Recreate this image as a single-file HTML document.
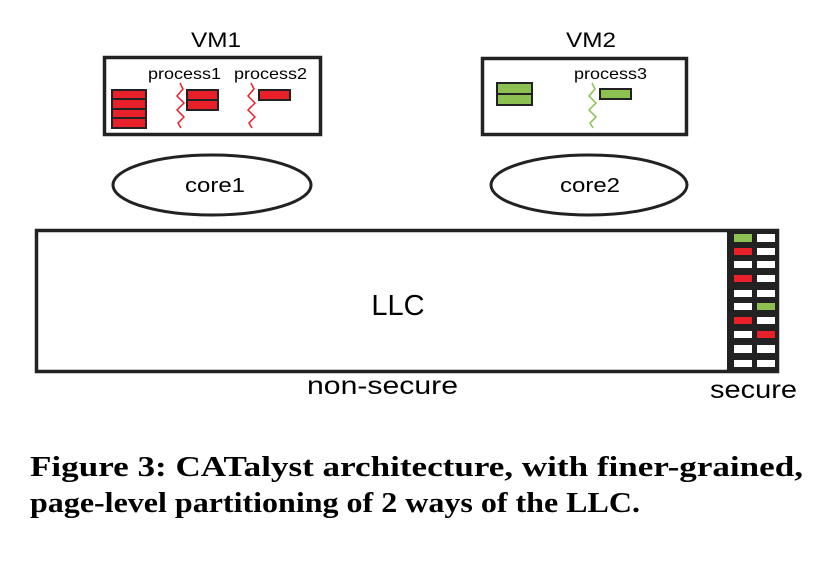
<!DOCTYPE html>
<html><head><style>
body{margin:0;width:830px;height:562px;background:#fff;overflow:hidden;position:relative}
</style></head><body>
<svg width="830" height="562" style="position:absolute;left:0;top:0" font-family="Liberation Sans, sans-serif">
<rect x="104.5" y="57.5" width="216" height="77" fill="#fff" stroke="#222" stroke-width="3.5"/>
<rect x="482.5" y="58.5" width="204" height="76" fill="#fff" stroke="#222" stroke-width="3.5"/>
<text x="191" y="47" font-size="21" textLength="50" lengthAdjust="spacingAndGlyphs">VM1</text>
<text x="566" y="47" font-size="21" textLength="50" lengthAdjust="spacingAndGlyphs">VM2</text>
<text x="148" y="79" font-size="16" textLength="73" lengthAdjust="spacingAndGlyphs">process1</text>
<text x="234" y="79" font-size="16" textLength="73" lengthAdjust="spacingAndGlyphs">process2</text>
<text x="574" y="79" font-size="16" textLength="73" lengthAdjust="spacingAndGlyphs">process3</text>
<g fill="#e8202a" stroke="#222" stroke-width="2">
<rect x="112" y="90" width="34" height="9"/><rect x="112" y="99" width="34" height="10"/><rect x="112" y="109" width="34" height="9"/><rect x="112" y="118" width="34" height="10"/>
<rect x="187" y="90" width="31" height="10"/><rect x="187" y="100" width="31" height="10"/>
<rect x="259" y="90" width="31" height="10"/>
</g>
<g fill="#8cc152" stroke="#222" stroke-width="2">
<rect x="497" y="83" width="35" height="11"/><rect x="497" y="94" width="35" height="11"/>
<rect x="600" y="89" width="31" height="10"/>
</g>
<g fill="none" stroke-width="1.5">
<polyline stroke="#e8202a" points="180,83 183,89 177,96 184,103 177,110 184,117 178,123 181,128"/>
<polyline stroke="#e8202a" points="251,83 254,89 248,96 255,103 248,110 255,117 249,123 252,128"/>
<polyline stroke="#8cc152" points="592,83 595,89 589,96 596,103 589,110 596,117 590,123 593,128"/>
</g>
<ellipse cx="212" cy="185" rx="99" ry="30" fill="#fff" stroke="#222" stroke-width="3"/>
<ellipse cx="589" cy="185" rx="98" ry="30" fill="#fff" stroke="#222" stroke-width="3"/>
<text x="185" y="192" font-size="20" textLength="60" lengthAdjust="spacingAndGlyphs">core1</text>
<text x="560" y="192" font-size="20" textLength="60" lengthAdjust="spacingAndGlyphs">core2</text>
<rect x="36.5" y="230.5" width="741" height="141" fill="#fff" stroke="#222" stroke-width="3.5"/>
<rect x="727" y="230" width="51" height="142" fill="#222"/>
<text x="398" y="315" font-size="29" text-anchor="middle">LLC</text>
<g fill="#fff">
<rect x="734" y="234" width="18" height="8" fill="#8cc152"/><rect x="757" y="234" width="18" height="8"/>
<rect x="734" y="248" width="18" height="7" fill="#e8202a"/><rect x="757" y="248" width="18" height="7"/>
<rect x="734" y="261" width="18" height="7"/><rect x="757" y="261" width="18" height="7"/>
<rect x="734" y="275" width="18" height="7" fill="#e8202a"/><rect x="757" y="275" width="18" height="7"/>
<rect x="734" y="290" width="18" height="7"/><rect x="757" y="290" width="18" height="7"/>
<rect x="734" y="303" width="18" height="7"/><rect x="757" y="303" width="18" height="7" fill="#8cc152"/>
<rect x="734" y="317" width="18" height="7" fill="#e8202a"/><rect x="757" y="317" width="18" height="7"/>
<rect x="734" y="331" width="18" height="7"/><rect x="757" y="331" width="18" height="7" fill="#e8202a"/>
<rect x="734" y="345" width="18" height="8"/><rect x="757" y="345" width="18" height="8"/>
<rect x="734" y="360" width="18" height="7"/><rect x="757" y="360" width="18" height="7"/>
</g>
<text x="307" y="394" font-size="25" textLength="151" lengthAdjust="spacingAndGlyphs">non-secure</text>
<text x="710" y="398" font-size="25" textLength="87" lengthAdjust="spacingAndGlyphs">secure</text>
<g font-family="Liberation Serif, serif" font-weight="bold" font-size="28">
<text x="30" y="476" textLength="773" lengthAdjust="spacingAndGlyphs">Figure 3:  CATalyst architecture, with finer-grained,</text>
<text x="30" y="512" textLength="610" lengthAdjust="spacingAndGlyphs">page-level partitioning of 2 ways of the LLC.</text>
</g>
</svg>
</body></html>
